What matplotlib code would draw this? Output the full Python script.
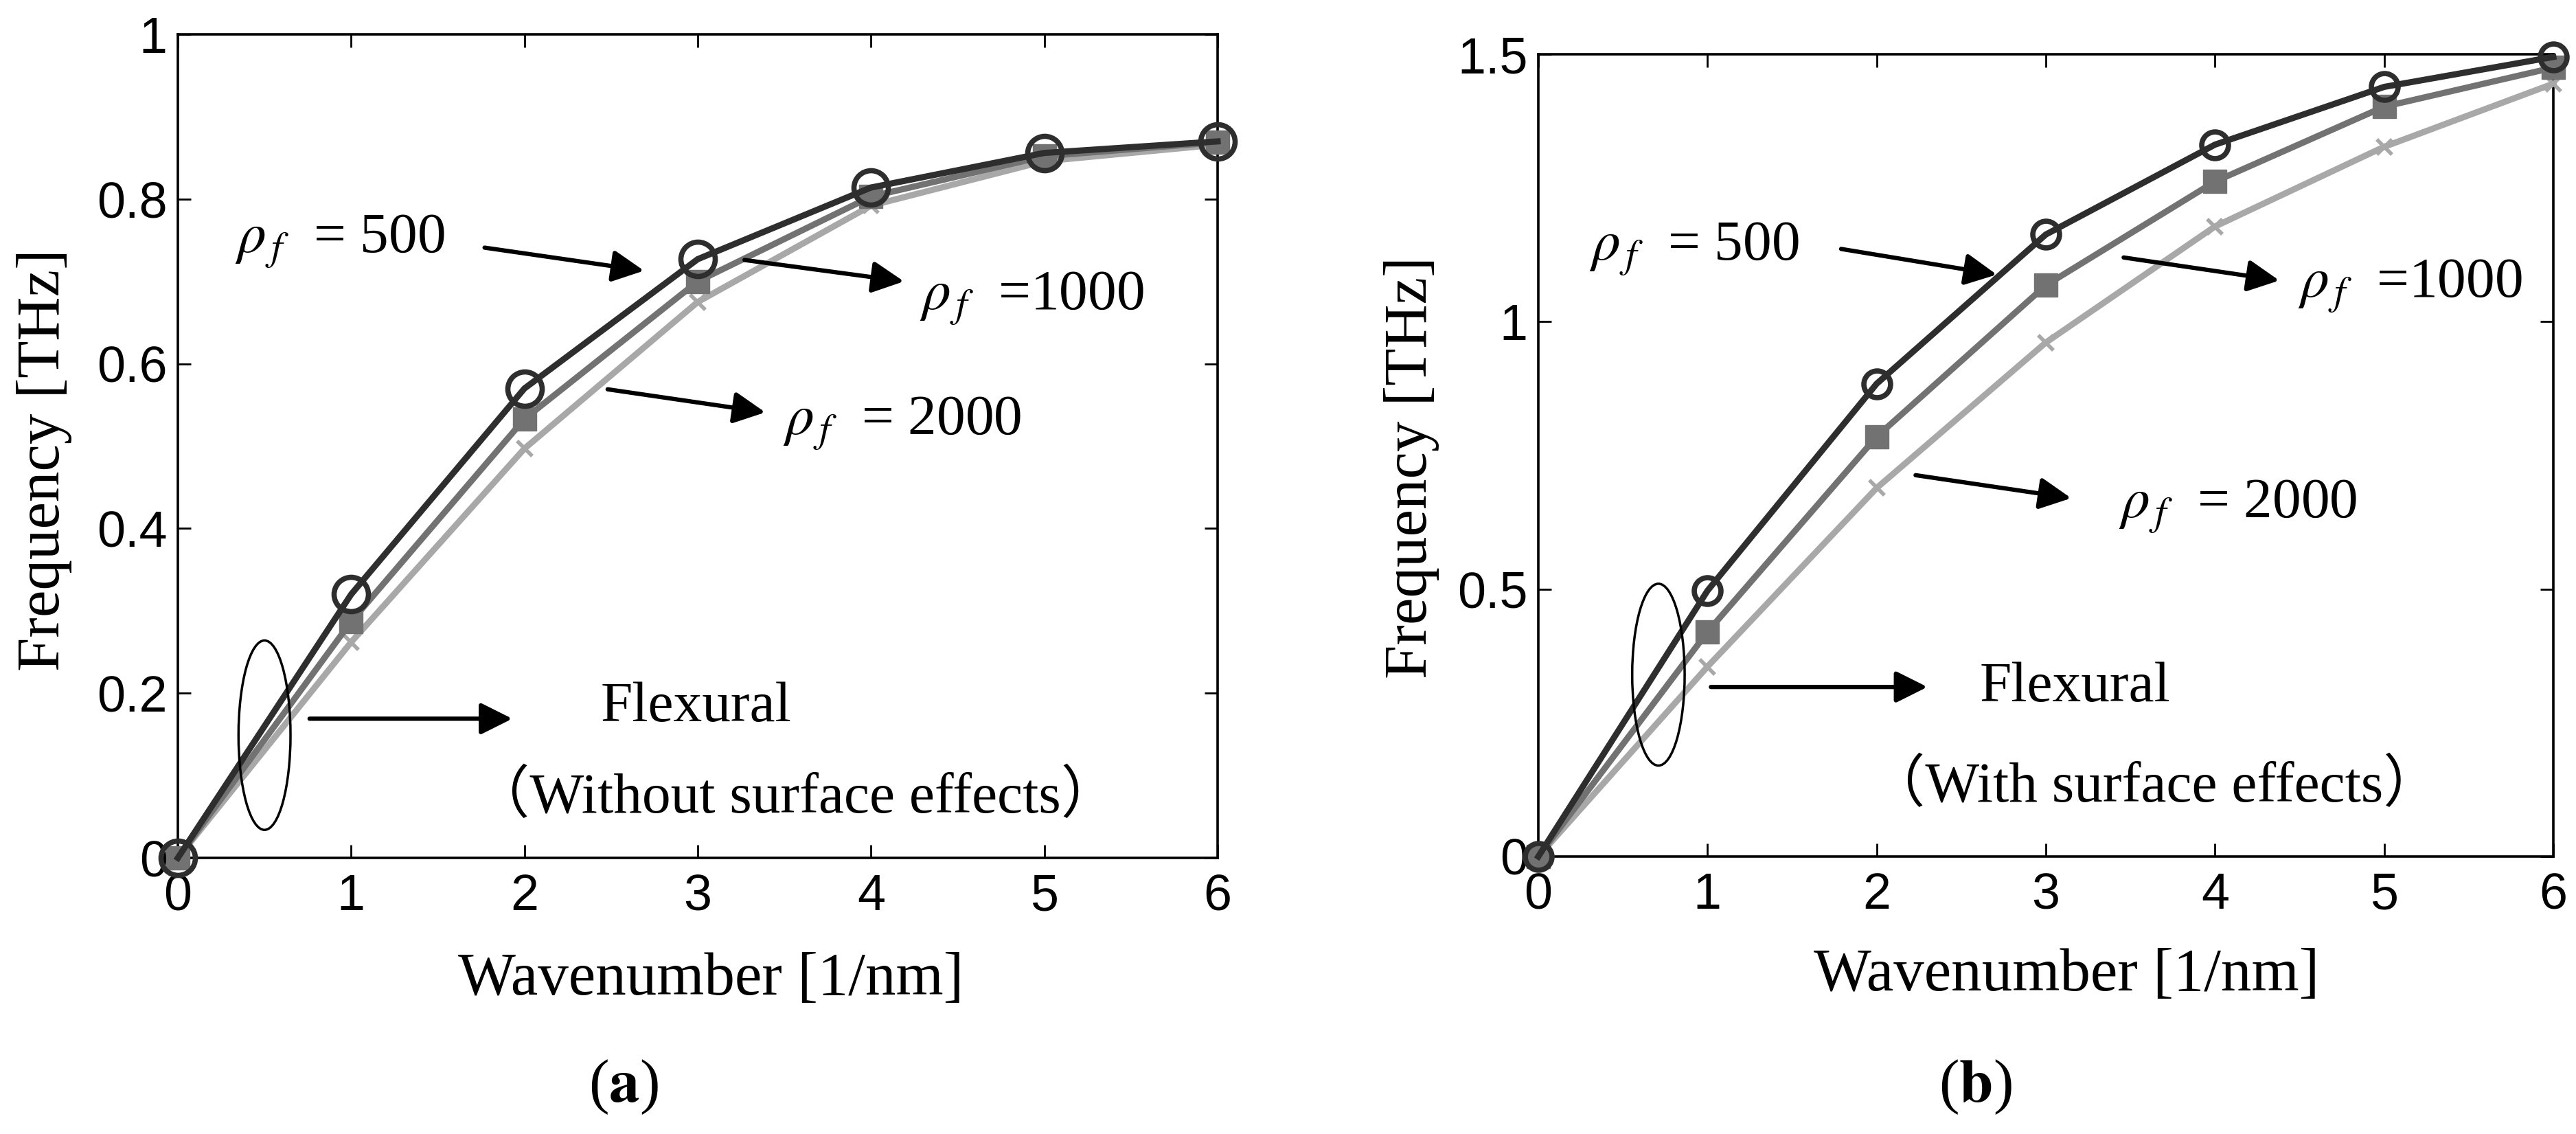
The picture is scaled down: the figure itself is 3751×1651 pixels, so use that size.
import matplotlib
matplotlib.use("Agg")
import matplotlib.pyplot as plt
from matplotlib.patches import Ellipse

plt.rcParams['mathtext.fontset'] = 'stix'
plt.rcParams['font.family'] = ['Liberation Serif', 'Noto Sans CJK SC', 'DejaVu Sans']

# ---------------- data ----------------
wavenumber = [0, 1, 2, 3, 4, 5, 6]

# (a) without surface effects
freq_a_500 = [0, 0.320, 0.570, 0.727, 0.814, 0.856, 0.870]
freq_a_1000 = [0, 0.287, 0.533, 0.700, 0.803, 0.852, 0.869]
freq_a_2000 = [0, 0.262, 0.497, 0.675, 0.792, 0.846, 0.866]

# (b) with surface effects
freq_b_500 = [0, 0.497, 0.884, 1.163, 1.331, 1.439, 1.495]
freq_b_1000 = [0, 0.420, 0.785, 1.068, 1.262, 1.402, 1.475]
freq_b_2000 = [0, 0.355, 0.689, 0.961, 1.178, 1.327, 1.445]

xticks = [0, 1, 2, 3, 4, 5, 6]
yticks_a = [0, 0.2, 0.4, 0.6, 0.8, 1]
yticks_a_labels = ['0', '0.2', '0.4', '0.6', '0.8', '1']
yticks_b = [0, 0.5, 1, 1.5]
yticks_b_labels = ['0', '0.5', '1', '1.5']

W, H = 3751, 1651
fig = plt.figure(figsize=(W / 100, H / 100), dpi=100)

def box(l, t, r, b):
    return [l / W, 1 - b / H, (r - l) / W, (b - t) / H]

ax_a = fig.add_axes(box(259, 50, 1773, 1249))
ax_b = fig.add_axes(box(2240, 79, 3718, 1247))

c500, c1000, c2000 = '#2e2e2e', '#727272', '#a8a8a8'
tick_font = dict(family='Liberation Sans', size=53)


def draw(ax, y500, y1000, y2000, circ_ms):
    ax.plot(wavenumber, y2000, color=c2000, lw=6.5, marker='x', ms=16, mew=4,
            clip_on=False, zorder=3)
    ax.plot(wavenumber, y1000, color=c1000, lw=6.5, marker='s', ms=24,
            mfc=c1000, mec=c1000, clip_on=False, zorder=4)
    ax.plot(wavenumber, y500, color=c500, lw=6.5, marker='o', ms=circ_ms,
            mfc='none', mec=c500, mew=5.5, clip_on=False, zorder=5)
    ax.set_xlim(0, 6)
    ax.set_xticks(xticks)
    ax.set_xticklabels([str(v) for v in xticks], fontdict=tick_font)
    ax.tick_params(direction='in', length=14, width=2, top=True, right=True)
    ax.tick_params(axis='x', pad=16)
    ax.tick_params(axis='y', pad=11)
    for s in ax.spines.values():
        s.set_linewidth(2.6)


draw(ax_a, freq_a_500, freq_a_1000, freq_a_2000, 36)
ax_a.set_ylim(0, 1)
ax_a.set_yticks(yticks_a)
ax_a.set_yticklabels(yticks_a_labels, fontdict=tick_font)

draw(ax_b, freq_b_500, freq_b_1000, freq_b_2000, 28)
ax_b.set_ylim(0, 1.5)
ax_b.set_yticks(yticks_b)
ax_b.set_yticklabels(yticks_b_labels, fontdict=tick_font)

ann_fs = 60
arrow_kw = dict(arrowstyle='-|>', color='black', lw=4.5, mutation_scale=70,
                shrinkA=0, shrinkB=0)


def arrow(ax, x0, y0, x1, y1):
    ax.annotate('', xy=(x1, y1), xytext=(x0, y0), arrowprops=arrow_kw, zorder=6)


# ---- annotations panel (a)
ax_a.text(0.33, 0.735, r'$\rho_{\,f}$  = 500', fontsize=ann_fs, ha='left', va='baseline')
arrow(ax_a, 1.77, 0.741, 2.69, 0.713)
arrow(ax_a, 3.27, 0.726, 4.19, 0.700)
ax_a.text(4.28, 0.666, r'$\rho_{\,f}$  =1000', fontsize=ann_fs, ha='left', va='baseline')
arrow(ax_a, 2.48, 0.569, 3.39, 0.541)
ax_a.text(3.49, 0.514, r'$\rho_{\,f}$  = 2000', fontsize=ann_fs, ha='left', va='baseline')
ax_a.add_patch(Ellipse((0.5, 0.149), 0.30, 0.23, fill=False, lw=2.5, ec='black', zorder=6))
arrow(ax_a, 0.76, 0.169, 1.93, 0.169)
ax_a.text(2.44, 0.166, 'Flexural', fontsize=ann_fs, ha='left', va='baseline')
ax_a.text(1.70, 0.055, '（Without surface effects）', fontsize=ann_fs, ha='left', va='baseline')

# ---- annotations panel (b)
ax_b.text(0.30, 1.115, r'$\rho_{\,f}$  = 500', fontsize=ann_fs, ha='left', va='baseline')
arrow(ax_b, 1.79, 1.136, 2.71, 1.088)
arrow(ax_b, 3.46, 1.120, 4.38, 1.077)
ax_b.text(4.49, 1.045, r'$\rho_{\,f}$  =1000', fontsize=ann_fs, ha='left', va='baseline')
arrow(ax_b, 2.23, 0.713, 3.15, 0.670)
ax_b.text(3.43, 0.633, r'$\rho_{\,f}$  = 2000', fontsize=ann_fs, ha='left', va='baseline')
ax_b.add_patch(Ellipse((0.71, 0.34), 0.31, 0.34, fill=False, lw=2.5, ec='black', zorder=6))
arrow(ax_b, 1.02, 0.317, 2.30, 0.317)
ax_b.text(2.61, 0.290, 'Flexural', fontsize=ann_fs, ha='left', va='baseline')
ax_b.text(1.95, 0.103, '（With surface effects）', fontsize=ann_fs, ha='left', va='baseline')

# ---- axis labels and panel labels
lab_fs = 64
fig.text(65 / W, 1 - 670 / H, 'Frequency [THz]', rotation=90, fontsize=lab_fs,
         ha='center', va='center')
fig.text(2055 / W, 1 - 681 / H, 'Frequency [THz]', rotation=90, fontsize=lab_fs,
         ha='center', va='center')
fig.text(1035 / W, 1 - 1426 / H, 'Wavenumber [1/nm]', fontsize=lab_fs,
         ha='center', va='center')
fig.text(3009 / W, 1 - 1420 / H, 'Wavenumber [1/nm]', fontsize=lab_fs,
         ha='center', va='center')
fig.text(908 / W, 1 - 1583 / H, r'($\mathbf{a}$)', fontsize=lab_fs,
         ha='center', va='center')
fig.text(2876 / W, 1 - 1583 / H, r'($\mathbf{b}$)', fontsize=lab_fs,
         ha='center', va='center')

fig.savefig('out.png', dpi=100, facecolor='white')
